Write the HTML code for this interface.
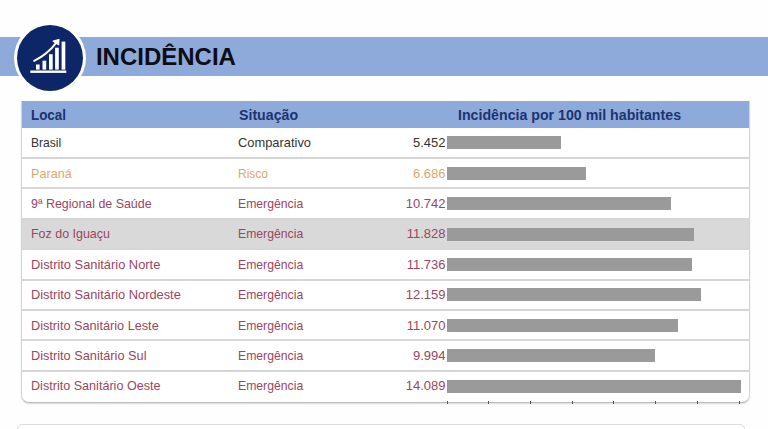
<!DOCTYPE html>
<html><head><meta charset="utf-8">
<style>
html,body{margin:0;padding:0;}
body{width:768px;height:429px;overflow:hidden;background:#fefefe;position:relative;font-family:"Liberation Sans",sans-serif;}
div,span{position:absolute;}
.band{left:0;top:37px;width:768px;height:38.6px;background:#8eaadb;}
.circw{left:14.3px;top:21.8px;width:72px;height:72px;border-radius:50%;background:#fff;}
.circ{left:17.3px;top:24.8px;width:66px;height:66px;border-radius:50%;background:#0c2667;}
.title{left:95.9px;top:43.3px;font-size:24px;font-weight:bold;color:#0d0d12;line-height:28px;white-space:nowrap;}
.tblbox{border:1px solid #d4d4d4;border-bottom-color:#bdbdbd;border-top:none;border-radius:0 0 8px 8px;box-shadow:0 1px 1.5px rgba(0,0,0,0.14);background:#fff;box-sizing:border-box;}
.hdr{background:#8eaadb;}
.h{transform-origin:0 0;font-size:14.5px;font-weight:bold;color:#1c3370;white-space:nowrap;line-height:16px;}
.t{transform-origin:0 0;font-size:13px;white-space:nowrap;line-height:15px;}
.sep{height:2px;background:#d6d6d6;}
.bar{background:#9a9a9a;}
.tick{width:1px;height:3px;background:#555;}
.card2{left:16.5px;top:424.3px;width:728px;height:20px;border:1px solid #dcdcdc;border-radius:5px;background:#fff;box-sizing:border-box;}
</style></head><body>
<div class="band"></div>
<div class="circw"></div><div class="circ"></div>
<svg width="768" height="429" viewBox="0 0 768 429" style="position:absolute;left:0;top:0">
<g fill="#fff">
<rect x="30.3" y="70.5" width="36" height="2.4"/>
<rect x="36" y="64.5" width="3.6" height="5.1"/>
<rect x="42.5" y="60.7" width="3.7" height="8.9"/>
<rect x="49" y="54.2" width="3.7" height="15.4"/>
<rect x="55.1" y="47.7" width="3.7" height="21.9"/>
<rect x="61.6" y="41.6" width="3.7" height="28"/>
</g>
<path d="M34.2 60.9 Q47.4 54.2 56.2 42.8" fill="none" stroke="#fff" stroke-width="2" stroke-linecap="round"/>
<path d="M53.2 41.2 L58.9 39.5 L58.6 44.6 Z" fill="#fff" stroke="#fff" stroke-width="1.3" stroke-linejoin="round"/>
</svg>
<div class="title">INCIDÊNCIA</div>
<div class="tblbox" style="left:21.0px;top:101px;width:728.5px;height:302.19999999999993px"></div>
<div class="hdr" style="left:21.5px;top:101px;width:727.5px;height:26.599999999999994px"></div>
<span class="h" style="left:31px;top:106.6px;transform:scaleX(0.923)">Local</span>
<span class="h" style="left:238.5px;top:106.6px;transform:scaleX(0.977)">Situação</span>
<span class="h" style="left:458px;top:106.6px;transform:scaleX(0.978)">Incidência por 100 mil habitantes</span>
<span class="t" style="left:31px;top:135.1px;color:#333333;transform:scaleX(0.9287)">Brasil</span>
<span class="t" style="left:237.9px;top:135.1px;color:#333333;transform:scaleX(0.9905)">Comparativo</span>
<span class="t" style="left:365.5px;width:80px;text-align:right;top:135.1px;color:#333333">5.452</span>
<div class="bar" style="left:447.0px;top:136.30px;width:113.73px;height:13px"></div>
<div class="sep" style="left:21.5px;top:157.0px;width:727.5px"></div>
<span class="t" style="left:31px;top:165.5px;color:#dda867;transform:scaleX(0.9709)">Paraná</span>
<span class="t" style="left:237.9px;top:165.5px;color:#dda867;transform:scaleX(0.9225)">Risco</span>
<span class="t" style="left:365.5px;width:80px;text-align:right;top:165.5px;color:#dda867">6.686</span>
<div class="bar" style="left:447.0px;top:166.70px;width:139.47px;height:13px"></div>
<div class="sep" style="left:21.5px;top:187.39999999999998px;width:727.5px"></div>
<span class="t" style="left:31px;top:195.89999999999998px;color:#9a4660;transform:scaleX(0.9552)">9ª Regional de Saúde</span>
<span class="t" style="left:237.9px;top:195.89999999999998px;color:#9a4660;transform:scaleX(0.9398)">Emergência</span>
<span class="t" style="left:365.5px;width:80px;text-align:right;top:195.89999999999998px;color:#9a4660">10.742</span>
<div class="bar" style="left:447.0px;top:197.10px;width:224.08px;height:13px"></div>
<div style="left:21.5px;top:218.79999999999998px;width:727.5px;height:30.4px;background:#d9d9d9"></div>
<div class="sep" style="left:21.5px;top:217.79999999999998px;width:727.5px"></div>
<span class="t" style="left:31px;top:226.29999999999998px;color:#9a4660;transform:scaleX(0.9576)">Foz do Iguaçu</span>
<span class="t" style="left:237.9px;top:226.29999999999998px;color:#9a4660;transform:scaleX(0.9398)">Emergência</span>
<span class="t" style="left:365.5px;width:80px;text-align:right;top:226.29999999999998px;color:#9a4660">11.828</span>
<div class="bar" style="left:447.0px;top:227.50px;width:246.73px;height:13px"></div>
<div class="sep" style="left:21.5px;top:248.2px;width:727.5px"></div>
<span class="t" style="left:31px;top:256.7px;color:#9a4660;transform:scaleX(0.9887)">Distrito Sanitário Norte</span>
<span class="t" style="left:237.9px;top:256.7px;color:#9a4660;transform:scaleX(0.9398)">Emergência</span>
<span class="t" style="left:365.5px;width:80px;text-align:right;top:256.7px;color:#9a4660">11.736</span>
<div class="bar" style="left:447.0px;top:257.90px;width:244.81px;height:13px"></div>
<div class="sep" style="left:21.5px;top:278.6px;width:727.5px"></div>
<span class="t" style="left:31px;top:287.1px;color:#9a4660;transform:scaleX(0.9873)">Distrito Sanitário Nordeste</span>
<span class="t" style="left:237.9px;top:287.1px;color:#9a4660;transform:scaleX(0.9398)">Emergência</span>
<span class="t" style="left:365.5px;width:80px;text-align:right;top:287.1px;color:#9a4660">12.159</span>
<div class="bar" style="left:447.0px;top:288.30px;width:253.64px;height:13px"></div>
<div class="sep" style="left:21.5px;top:309.0px;width:727.5px"></div>
<span class="t" style="left:31px;top:317.5px;color:#9a4660;transform:scaleX(0.9764)">Distrito Sanitário Leste</span>
<span class="t" style="left:237.9px;top:317.5px;color:#9a4660;transform:scaleX(0.9398)">Emergência</span>
<span class="t" style="left:365.5px;width:80px;text-align:right;top:317.5px;color:#9a4660">11.070</span>
<div class="bar" style="left:447.0px;top:318.70px;width:230.92px;height:13px"></div>
<div class="sep" style="left:21.5px;top:339.4px;width:727.5px"></div>
<span class="t" style="left:31px;top:347.9px;color:#9a4660;transform:scaleX(0.9806)">Distrito Sanitário Sul</span>
<span class="t" style="left:237.9px;top:347.9px;color:#9a4660;transform:scaleX(0.9398)">Emergência</span>
<span class="t" style="left:365.5px;width:80px;text-align:right;top:347.9px;color:#9a4660">9.994</span>
<div class="bar" style="left:447.0px;top:349.10px;width:208.47px;height:13px"></div>
<div class="sep" style="left:21.5px;top:369.79999999999995px;width:727.5px"></div>
<span class="t" style="left:31px;top:378.29999999999995px;color:#9a4660;transform:scaleX(0.9688)">Distrito Sanitário Oeste</span>
<span class="t" style="left:237.9px;top:378.29999999999995px;color:#9a4660;transform:scaleX(0.9398)">Emergência</span>
<span class="t" style="left:365.5px;width:80px;text-align:right;top:378.29999999999995px;color:#9a4660">14.089</span>
<div class="bar" style="left:447.0px;top:379.50px;width:293.90px;height:13px"></div>
<div class="tick" style="left:447px;top:401.20px"></div>
<div class="tick" style="left:488px;top:401.20px"></div>
<div class="tick" style="left:530px;top:401.20px"></div>
<div class="tick" style="left:572px;top:401.20px"></div>
<div class="tick" style="left:613px;top:401.20px"></div>
<div class="tick" style="left:655px;top:401.20px"></div>
<div class="tick" style="left:697px;top:401.20px"></div>
<div class="tick" style="left:739px;top:401.20px"></div>
<div class="card2"></div>
</body></html>
